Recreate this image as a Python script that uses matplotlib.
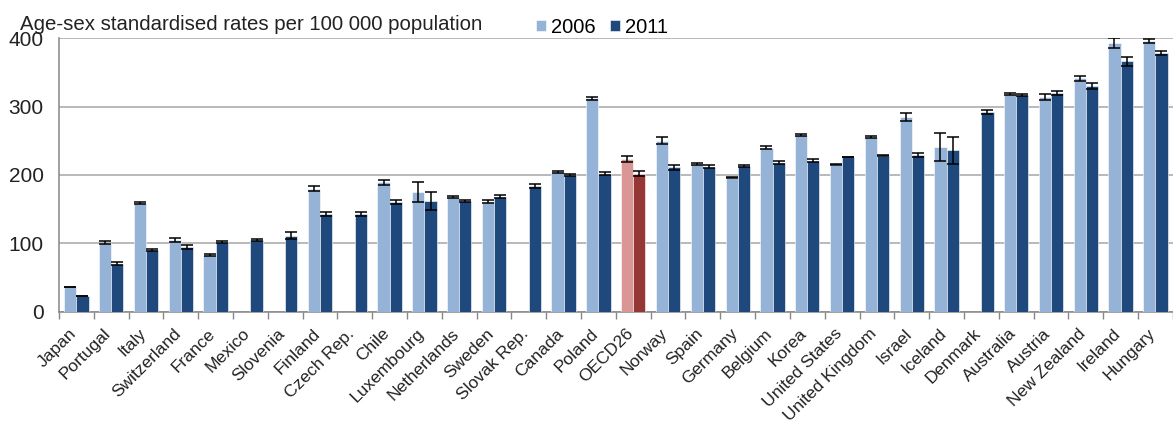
import numpy as np
import matplotlib.pyplot as plt
from matplotlib.transforms import ScaledTranslation

plt.rcParams['font.family'] = ['Liberation Sans', 'DejaVu Sans']

countries = ['Japan', 'Portugal', 'Italy', 'Switzerland', 'France', 'Mexico', 'Slovenia',
             'Finland', 'Czech Rep.', 'Chile', 'Luxembourg', 'Netherlands', 'Sweden',
             'Slovak Rep.', 'Canada', 'Poland', 'OECD26', 'Norway', 'Spain', 'Germany',
             'Belgium', 'Korea', 'United States', 'United Kingdom', 'Israel', 'Iceland',
             'Denmark', 'Australia', 'Austria', 'New Zealand', 'Ireland', 'Hungary']

nan = np.nan
rate_2006 = [36, 101, 159, 105, 83, nan, nan, 180, nan, 189, 175, 168, 161, nan, 204, 312,
             223, 250, 216, 196, 240, 259, 215, 255, 285, 241, nan, 319, 314, 341, 393, 396]
err_2006 = [0.5, 2, 1, 3, 1, 0, 0, 4, 0, 4, 14, 1.5, 2.5, 0, 1.5, 2,
            4, 5, 1, 1, 2, 1.5, 1, 1.5, 6, 21, 0, 1.5, 4, 4, 7, 2.5]
rate_2011 = [23, 70, 90, 94, 102, 105, 111, 143, 143, 161, 162, 162, 168, 184, 200, 202,
             202, 211, 212, 213, 218, 221, 226, 228, 229, 236, 292, 317, 320, 330, 366, 378]
err_2011 = [0.5, 2, 1, 3, 1, 1, 5, 3, 3, 3, 13, 2, 2.5, 3, 2, 2.5,
            3.5, 4, 2, 1, 2.5, 2, 0.5, 1, 3.5, 20, 3.5, 2, 3, 4, 6, 2.5]

light_blue, dark_blue = '#95B3D7', '#1F497D'
light_red, dark_red = '#D99694', '#953735'

x = np.arange(len(countries))
w = 0.35
c06 = [light_red if c == 'OECD26' else light_blue for c in countries]
c11 = [dark_red if c == 'OECD26' else dark_blue for c in countries]

fig = plt.figure(figsize=(11.73, 4.24), dpi=100)
ax = fig.add_axes([0.0503, 0.265, 0.9495, 0.645])

ekw = dict(ecolor='black', elinewidth=1.1, capthick=1.1)
ax.bar(x - w / 2, rate_2006, w, color=c06, edgecolor='white', linewidth=0.4,
       yerr=err_2006, capsize=4.3, error_kw=ekw, zorder=3, label='2006')
ax.bar(x + w / 2, rate_2011, w, color=c11, edgecolor='white', linewidth=0.4,
       yerr=err_2011, capsize=4.3, error_kw=ekw, zorder=3, label='2011')

ax.set_xlim(-0.5, len(countries) - 0.5)
ax.set_ylim(0, 400)
ax.set_yticks([0, 100, 200, 300, 400])
ax.tick_params(axis='y', length=0, labelsize=15, colors='#222222', pad=11)
ax.grid(axis='y', color='#A6A6A6', linewidth=1.1, zorder=0)

ax.set_xticks(x)
ax.set_xticklabels(countries, rotation=45, ha='right', rotation_mode='anchor',
                   fontsize=12.5, color='#222222')
ax.tick_params(axis='x', length=0, pad=6)
shift = ScaledTranslation(-8 / 100, -6 / 100, fig.dpi_scale_trans)
for lab in ax.get_xticklabels():
    lab.set_transform(lab.get_transform() + shift)
# category separator ticks on the x axis
ax.set_xticks(np.arange(len(countries) + 1) - 0.5, minor=True)
ax.tick_params(axis='x', which='minor', length=5, color='#868686', width=1)

for s in ['top', 'right']:
    ax.spines[s].set_visible(False)
for s in ['left', 'bottom']:
    ax.spines[s].set_color('#868686')
    ax.spines[s].set_linewidth(1.1)

fig.text(0.017, 0.929, 'Age-sex standardised rates per 100 000 population',
         fontsize=14.7, color='#222222', va='baseline')
fig.legend(*ax.get_legend_handles_labels(), loc='lower left',
           bbox_to_anchor=(0.457, 0.913), ncol=2, frameon=False,
           fontsize=14.5, handlelength=0.5, handleheight=0.5, handletextpad=0.25,
           columnspacing=0.7, borderaxespad=0, borderpad=0)

fig.savefig('out.png', dpi=100)
